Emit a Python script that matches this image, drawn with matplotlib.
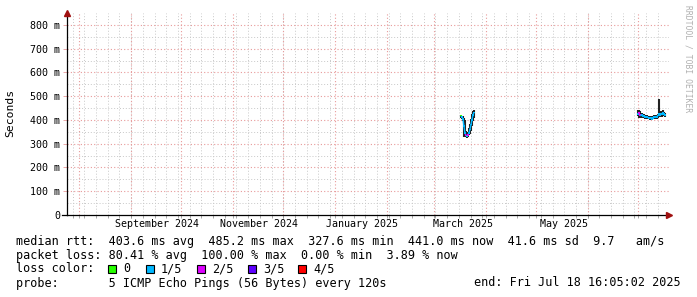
import numpy as np
import pandas as pd
import matplotlib
matplotlib.use('Agg')
from matplotlib import pyplot as plt
from matplotlib.collections import LineCollection
from matplotlib.patches import Rectangle

plt.rcParams['font.family'] = ['DejaVu Sans Mono']

# smokeping loss colours (5 pings)
loss_colors = ['#26ff00', '#00b8ff', '#dd00ff', '#5e00ff', '#ff0000']
loss_labels = ['0', '1/5', '2/5', '3/5', '4/5']

# rrd step of the 360 day graph is 864 minutes
step = '864min'

# first burst of data, March 2025 (ms)
start_1 = '2025-03-17 05:00'
median_1 = [418, 412, 405, 375, 345, 335, 333, 337, 345, 360, 380, 400, 420, 432]
min_1 = [410, 405, 395, 330, 328, 328, 326, 330, 335, 340, 355, 375, 395, 410]
max_1 = [420, 418, 415, 408, 400, 355, 345, 350, 365, 385, 405, 425, 438, 440]
loss_1 = [0, 1, 1, 1, 1, 2, 1, 2, 1, 1, 1, 1, 1, 1]

# second burst, July 2025 (ms)
start_2 = '2025-06-30 23:00'
median_2 = [425, 430, 420, 418, 422, 415, 418, 412, 410, 414, 410, 408, 406, 410,
            404, 408, 412, 410, 415, 412, 418, 425, 420, 428, 422, 430, 425, 420]
min_2 = [415, 410, 410, 410, 412, 408, 410, 405, 405, 408, 404, 402, 400, 404,
         400, 402, 405, 404, 408, 405, 410, 415, 412, 418, 412, 420, 415, 412]
max_2 = [440, 442, 438, 428, 430, 425, 425, 420, 418, 420, 418, 415, 412, 418,
         410, 415, 420, 418, 422, 420, 425, 488, 430, 438, 432, 440, 435, 430]
loss_2 = [1, 2, 2, 1, 1, 1, 1, 1, 1, 1, 1, 1, 1, 1,
          1, 1, 1, 1, 1, 1, 1, 1, 1, 1, 1, 1, 1, 1]

x_start = pd.Timestamp('2024-07-24 15:35')
x_end = pd.Timestamp('2025-07-19 15:35')

label_dates = ['2024-09-16 10:00', '2024-11-16 10:00', '2025-01-17 00:00',
               '2025-03-18 12:00', '2025-05-18 00:00']
label_texts = ['September 2024', 'November 2024', 'January 2025',
               'March 2025', 'May 2025']

legend_lines = [
    'median rtt:  403.6 ms avg  485.2 ms max  327.6 ms min  441.0 ms now  41.6 ms sd  9.7   am/s',
    'packet loss: 80.41 % avg  100.00 % max  0.00 % min  3.89 % now',
]
probe_text = 'probe:       5 ICMP Echo Pings (56 Bytes) every 120s'
end_text = 'end: Fri Jul 18 16:05:02 2025'

W, H = 697, 297
fig = plt.figure(figsize=(W / 100, H / 100), dpi=100)
fig.patch.set_facecolor('white')

left, right, top, bottom = 67, 669, 13, 215
ax = fig.add_axes([left / W, 1 - bottom / H, (right - left) / W, (bottom - top) / H])
ax.set_facecolor('white')
ax.set_xlim(x_start, x_end)
ax.set_ylim(0, 0.85)

# grid (drawn by hand, rrdtool style)
months = pd.date_range('2024-08-01', '2025-07-01', freq='MS')
weeks = pd.date_range('2024-07-28', '2025-07-19', freq='W-SUN')
for w in weeks:
    ax.axvline(w, color='#c8c8c8', lw=0.7, ls=(0, (1, 2)), zorder=0)
for v in np.arange(0.05, 0.85, 0.1):
    ax.axhline(v, color='#c8c8c8', lw=0.7, ls=(0, (1, 2)), zorder=0)
for m in months:
    ax.axvline(m, color='#e89a9a', lw=0.8, ls=(0, (1, 2)), zorder=1)
for v in np.arange(0.1, 0.85, 0.1):
    ax.axhline(v, color='#e89a9a', lw=0.8, ls=(0, (1, 2)), zorder=1)

# data
for start, med, lo, hi, loss in [(start_1, median_1, min_1, max_1, loss_1),
                                 (start_2, median_2, min_2, max_2, loss_2)]:
    t = pd.date_range(start, periods=len(med), freq=step)
    med = np.array(med) / 1000
    lo = np.array(lo) / 1000
    hi = np.array(hi) / 1000
    ax.vlines(t, lo, hi, color='#222222', lw=1.5, zorder=3)
    tn = matplotlib.dates.date2num(t)
    segs = [[(tn[i - 1], med[i - 1]), (tn[i], med[i])] for i in range(1, len(tn))]
    cols = [loss_colors[l] for l in loss[1:]]
    ax.add_collection(LineCollection(segs, colors=cols, linewidths=1.0, zorder=4))
    ax.scatter(tn, med, s=1.2, c=[loss_colors[l] for l in loss], marker='s',
               linewidths=0, zorder=5)

# axes
for s in ['top', 'right']:
    ax.spines[s].set_visible(False)
ax.spines['left'].set_linewidth(0.9)
ax.spines['bottom'].set_linewidth(0.9)

yt = np.arange(0, 0.81, 0.1)
ax.set_yticks(yt)
ax.set_yticklabels(['0'] + ['%d m' % round(v * 1000) for v in yt[1:]], fontsize=7.2)
ax.tick_params(axis='y', length=2.9, width=0.6, color='#e89a9a', pad=2.2)

ax.set_xticks(pd.to_datetime(label_dates))
ax.set_xticklabels(label_texts, fontsize=7.2)
ax.tick_params(axis='x', length=0, pad=3)
ax.set_xticks(list(months) + list(weeks), minor=True)
ax.tick_params(axis='x', which='minor', length=2, width=0.6, color='#999999')

# axis arrows
ax.plot(0, 1, marker='^', color='#a01010', markersize=4, transform=ax.transAxes,
        clip_on=False, zorder=6)
ax.plot(1, 0, marker='>', color='#a01010', markersize=4, transform=ax.transAxes,
        clip_on=False, zorder=6)
fig.add_artist(plt.Line2D([62 / W, left / W], [1 - bottom / H, 1 - bottom / H],
                          color='black', lw=0.9))

fig.text(10.5 / W, 1 - 113 / H, 'Seconds', rotation=90, ha='center', va='center',
         fontsize=8.2)
fig.text(688 / W, 1 - 5 / H, 'RRDTOOL / TOBI OETIKER', rotation=270, ha='center',
         va='top', fontsize=5.8, color='#b0b0b0')

# legend block
fs = 8.45
fig.text(16 / W, 1 - 241.5 / H, legend_lines[0], va='center', fontsize=fs)
fig.text(16 / W, 1 - 255 / H, legend_lines[1], va='center', fontsize=fs)
fig.text(16 / W, 1 - 269 / H, 'loss color:', va='center', fontsize=fs)
box_x = [108, 146, 197, 248, 298]
for bx, c, lab in zip(box_x, loss_colors, loss_labels):
    fig.add_artist(Rectangle((bx / W, 1 - 273 / H), 8 / W, 8 / H, facecolor=c,
                             edgecolor='black', lw=0.8))
    fig.text((bx + 15) / W, 1 - 269 / H, lab, va='center', fontsize=fs)
fig.text(16 / W, 1 - 283 / H, probe_text, va='center', fontsize=fs)
fig.text(681 / W, 1 - 283 / H, end_text, va='center', ha='right', fontsize=fs)

fig.savefig('out.png', dpi=100)
